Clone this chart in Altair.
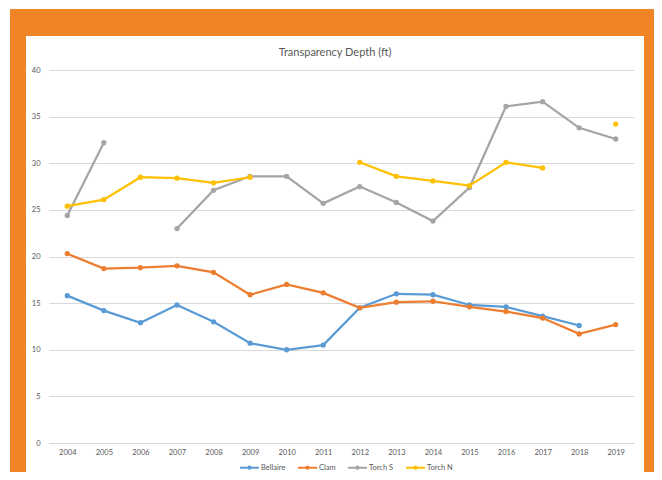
import altair as alt
import pandas as pd

years = [str(y) for y in range(2004, 2020)]
bellaire = [15.8, 14.2, 12.9, 14.8, 13.0, 10.7, 10.0, 10.5, 14.5, 16.0, 15.9, 14.8, 14.6, 13.6, 12.6, None]
clam = [20.3, 18.7, 18.8, 19.0, 18.3, 15.9, 17.0, 16.1, 14.5, 15.1, 15.2, 14.6, 14.1, 13.4, 11.7, 12.7]
torch_s = [24.4, 32.2, None, 23.0, 27.1, 28.6, 28.6, 25.7, 27.5, 25.8, 23.8, 27.4, 36.1, 36.6, 33.8, 32.6]
torch_n = [25.4, 26.1, 28.5, 28.4, 27.9, 28.5, None, None, 30.1, 28.6, 28.1, 27.6, 30.1, 29.5, None, 34.2]
series = ["Bellaire", "Clam", "Torch S", "Torch N"]
colors = ["#5B9BD5", "#ED7D31", "#A5A5A5", "#FFC000"]
y_ticks = [0, 5, 10, 15, 20, 25, 30, 35, 40]
title_text = "Transparency Depth (ft)"

rows = []
for name, vals in zip(series, [bellaire, clam, torch_s, torch_n]):
    for yr, v in zip(years, vals):
        rows.append({"Year": yr, "Site": name, "Depth": v})
df = pd.DataFrame(rows)

ORANGE = "#EF8524"
FONT = "Lato"
GRAY = "#595959"

x_enc = alt.X("Year:O", scale=alt.Scale(domain=years, padding=0.5),
              axis=alt.Axis(title=None, labelAngle=0, ticks=False, grid=False,
                            domainColor="#D9D9D9", labelPadding=5))
y_enc = alt.Y("Depth:Q", scale=alt.Scale(domain=[0, 40], nice=False, zero=True),
              axis=alt.Axis(title=None, values=y_ticks, ticks=False, domain=False,
                            gridColor="#D9D9D9", labelPadding=9))
color_enc = alt.Color("Site:N", scale=alt.Scale(domain=series, range=colors),
                      legend=alt.Legend(title=None, orient="none", direction="horizontal",
                                        legendX=190, legendY=387,
                                        symbolType="M-1,0H1M-0.12,0A0.12,0.12 0 1,0 0.12,0A0.12,0.12 0 1,0 -0.12,0",
                                        symbolSize=361, symbolStrokeWidth=2,
                                        labelFontSize=7.5, labelColor=GRAY, labelFont=FONT,
                                        labelOffset=1, columnPadding=8))

base = alt.Chart(df)
lines = base.mark_line(strokeWidth=2.25, invalid="break-paths-filter-domains").encode(
    x=x_enc, y=y_enc, color=color_enc, detail="Site:N")
points = base.mark_circle(size=28, opacity=1).encode(
    x=x_enc, y=y_enc, color=alt.Color("Site:N", scale=alt.Scale(domain=series, range=colors), legend=None))

def band(x1, x2, y1, y2):
    return alt.Chart(alt.Data(values=[{}])).mark_rect(color=ORANGE).encode(
        x=alt.value(x1), x2=alt.value(x2), y=alt.value(y1), y2=alt.value(y2))

frame_top = band(-39, 613, -61, -34)
frame_left = band(-39, -23, -34, 420)
frame_right = band(595, 613, -34, 420)

title = alt.Chart(alt.Data(values=[{"t": title_text}])).mark_text(
    font=FONT, fontSize=11, color=GRAY, align="center", baseline="middle").encode(
    text="t:N", x=alt.value(286), y=alt.value(-17))

chart = alt.layer(frame_top, frame_left, frame_right, title, lines, points).properties(
    width=585, height=373,
    autosize=alt.AutoSizeParams(type="none"),
    padding={"left": 41, "top": 62, "right": 20, "bottom": 29},
    background="white",
).configure_view(stroke=None).configure_axis(
    labelFont=FONT, labelFontSize=7.5, labelColor=GRAY
)

chart.save("out.html", embed_options={"renderer": "svg", "actions": False})
